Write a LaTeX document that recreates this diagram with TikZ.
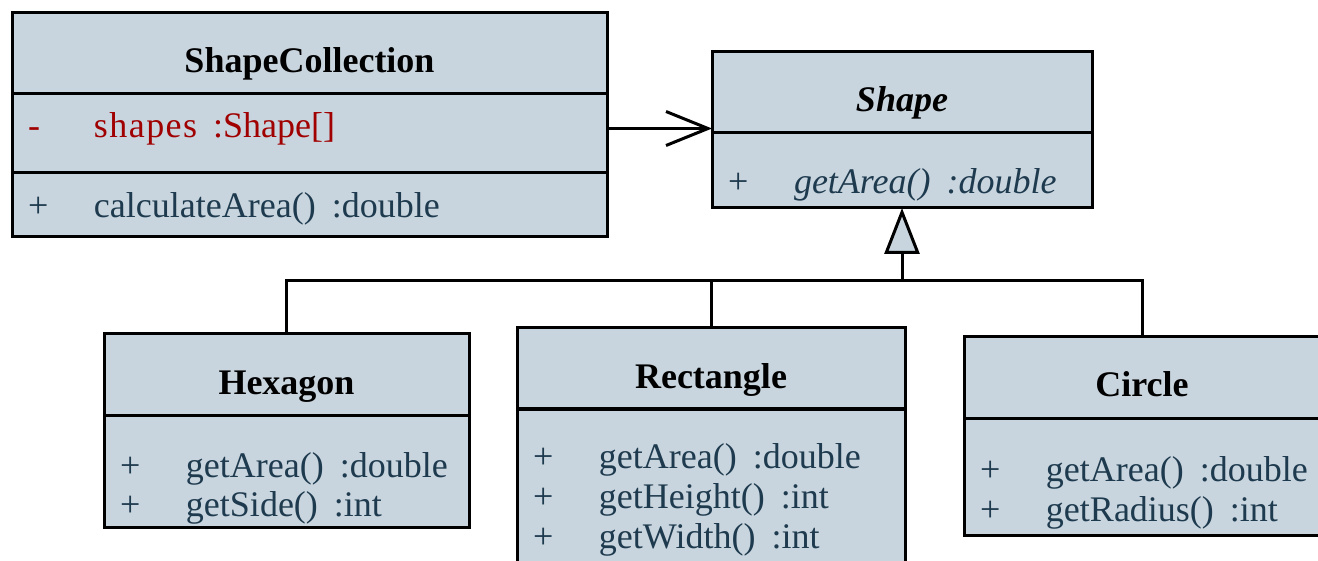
\documentclass[tikz,border=0pt]{standalone}
\usepackage{fontspec}
\setmainfont{Liberation Serif}
\usetikzlibrary{arrows.meta, positioning, calc}
\definecolor{umlfill}{HTML}{C8D5DE}
\definecolor{umltext}{HTML}{1E3A4E}
\definecolor{umlred}{HTML}{A00000}
\newcommand{\umlmem}[3]{\mbox{\makebox[33pt][l]{#1}#2\hspace{8pt}#3}}

\begin{document}
\begin{tikzpicture}[
  x=0.5pt, y=-0.5pt,
  every node/.style={font=\fontsize{18}{20}\selectfont},
  cls/.style={rectangle, draw=black, line width=1.5pt, fill=umlfill,
              inner sep=0pt, outer sep=0pt, anchor=north west},
  ttl/.style={cls, font=\fontsize{18}{20}\selectfont\bfseries,
              text height=30pt, text depth=10.5pt, align=center},
  body/.style={cls, text=umltext, align=left, inner xsep=8pt},
  link/.style={line width=1.5pt},
  assoc/.style={link, -{Straight Barb[length=21pt, width=17pt]}},
  gen/.style={link, -{Triangle[length=23pt, width=17.5pt, fill=umlfill]}}
]
\useasboundingbox (0,0) rectangle (1318,561);
\clip (0,0) rectangle (1318,561);

% collection class
\node[ttl, minimum width=297.5pt] (sct) at (12,13) {ShapeCollection};
\node[body, text=umlred, text width=281.5pt, text height=22pt, text depth=17.5pt]
  (sca) at (sct.south west)
  {\umlmem{-}{{\addfontfeature{LetterSpace=4}shapes}}{:Shape[]}};
\node[body, text width=281.5pt, text height=22.5pt, text depth=9.5pt]
  (sco) at (sca.south west) {\umlmem{+}{calculateArea()}{:double}};

% abstract base
\node[ttl, minimum width=190pt, font=\fontsize{18}{20}\selectfont\bfseries\itshape]
  (shpt) at (712,52) {Shape};
\node[body, text width=174pt, text height=30.5pt, text depth=7pt]
  (shpb) at (shpt.south west) {\umlmem{+}{\itshape getArea()}{\itshape :double}};

% subclasses
\node[ttl, minimum width=182.5pt] (hext) at (104,334) {Hexagon};
\node[body, text width=166.5pt, text height=31pt, text depth=25pt]
  (hexb) at (hext.south west)
  {\umlmem{+}{getArea()}{:double}\\ \umlmem{+}{getSide()}{:int}};

\node[ttl, minimum width=194pt] (rectt) at (517,328) {Rectangle};
\node[body, text width=178pt, text height=29.5pt, text depth=54pt]
  (rectb) at (rectt.south west)
  {\umlmem{+}{getArea()}{:double}\\ \umlmem{+}{getHeight()}{:int}\\
   \umlmem{+}{getWidth()}{:int}};

\node[ttl, minimum width=178pt] (circt) at (964,337) {Circle};
\node[body, text width=162pt, text height=31.5pt, text depth=27pt]
  (circb) at (circt.south west)
  {\umlmem{+}{getArea()}{:double}\\ \umlmem{+}{getRadius()}{:int}};

% association
\coordinate (asc) at ([yshift=2.5pt]sca.east);
\draw[assoc] (asc) -- (asc -| shpt.west);

% generalization
\coordinate (bus) at (902,281);
\draw[link] (hext.north) |- (bus);
\draw[link] (rectt.north) |- (bus);
\draw[link] (circt.north) |- (bus);
\draw[gen] (bus) -- (shpb.south);
\end{tikzpicture}
\end{document}
